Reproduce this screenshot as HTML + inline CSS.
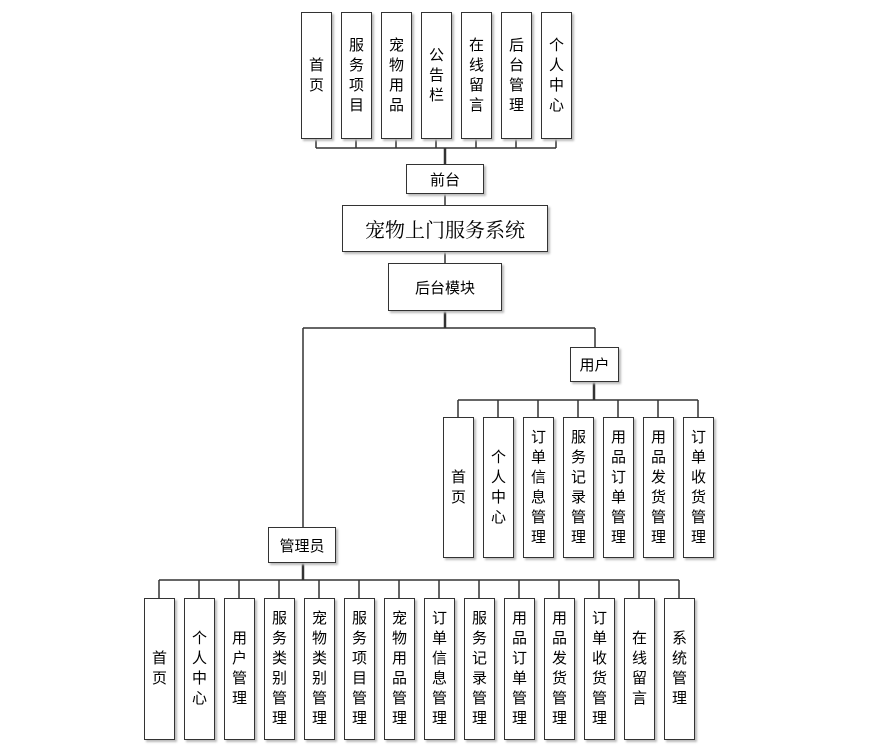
<!DOCTYPE html>
<html><head><meta charset="utf-8"><style>
body{margin:0;width:870px;height:750px;background:#fff;position:relative;overflow:hidden;font-family:"Liberation Sans","Noto Sans CJK SC",sans-serif;}
.b{position:absolute;border:1.5px solid #333;box-sizing:border-box;background:#fff;box-shadow:2px 2px 2px #bbb;display:flex;align-items:center;justify-content:center;text-align:center;color:#000;}
.v{font-size:15px;line-height:20px;width:31px}
.h{font-size:15px}
svg{position:absolute;left:0;top:0}
</style></head><body>
<svg width="870" height="750">
<g stroke="#333" stroke-width="1.5" fill="none">
<path d="M316 139V148M356 139V148M396 139V148M436 139V148M476 139V148M516 139V148M556 139V148M316 148H556"/>
<path d="M445 148V164" stroke-width="2.5"/>
<path d="M445 194V205M445 252V263"/>
<path d="M445 311V328" stroke-width="2.5"/>
<path d="M303 328H595M303 328V527M595 328V347"/>
<path d="M594 382V400" stroke-width="2.5"/>
<path d="M458 400H698M458 400V417M498 400V417M538 400V417M578 400V417M618 400V417M658 400V417M698 400V417"/>
<path d="M303 563V580" stroke-width="2.5"/>
<path d="M159 580H679M159 580V598M199 580V598M239 580V598M279 580V598M319 580V598M359 580V598M399 580V598M439 580V598M479 580V598M519 580V598M559 580V598M599 580V598M639 580V598M679 580V598"/>
</g></svg>
<div class="b v" style="left:301px;top:12px;height:127px">首<br>页</div>
<div class="b v" style="left:341px;top:12px;height:127px">服<br>务<br>项<br>目</div>
<div class="b v" style="left:381px;top:12px;height:127px">宠<br>物<br>用<br>品</div>
<div class="b v" style="left:421px;top:12px;height:127px">公<br>告<br>栏</div>
<div class="b v" style="left:461px;top:12px;height:127px">在<br>线<br>留<br>言</div>
<div class="b v" style="left:501px;top:12px;height:127px">后<br>台<br>管<br>理</div>
<div class="b v" style="left:541px;top:12px;height:127px">个<br>人<br>中<br>心</div>
<div class="b h" style="left:406px;top:164px;width:78px;height:30px">前台</div>
<div class="b" style="left:342px;top:205px;width:206px;height:47px;font-size:20px;font-family:'Liberation Serif','Noto Serif CJK SC',serif">宠物上门服务系统</div>
<div class="b h" style="left:388px;top:263px;width:114px;height:48px">后台模块</div>
<div class="b h" style="left:570px;top:347px;width:49px;height:35px">用户</div>
<div class="b v" style="left:443px;top:417px;height:141px">首<br>页</div>
<div class="b v" style="left:483px;top:417px;height:141px">个<br>人<br>中<br>心</div>
<div class="b v" style="left:523px;top:417px;height:141px">订<br>单<br>信<br>息<br>管<br>理</div>
<div class="b v" style="left:563px;top:417px;height:141px">服<br>务<br>记<br>录<br>管<br>理</div>
<div class="b v" style="left:603px;top:417px;height:141px">用<br>品<br>订<br>单<br>管<br>理</div>
<div class="b v" style="left:643px;top:417px;height:141px">用<br>品<br>发<br>货<br>管<br>理</div>
<div class="b v" style="left:683px;top:417px;height:141px">订<br>单<br>收<br>货<br>管<br>理</div>
<div class="b h" style="left:268px;top:527px;width:68px;height:36px">管理员</div>
<div class="b v" style="left:144px;top:598px;height:142px">首<br>页</div>
<div class="b v" style="left:184px;top:598px;height:142px">个<br>人<br>中<br>心</div>
<div class="b v" style="left:224px;top:598px;height:142px">用<br>户<br>管<br>理</div>
<div class="b v" style="left:264px;top:598px;height:142px">服<br>务<br>类<br>别<br>管<br>理</div>
<div class="b v" style="left:304px;top:598px;height:142px">宠<br>物<br>类<br>别<br>管<br>理</div>
<div class="b v" style="left:344px;top:598px;height:142px">服<br>务<br>项<br>目<br>管<br>理</div>
<div class="b v" style="left:384px;top:598px;height:142px">宠<br>物<br>用<br>品<br>管<br>理</div>
<div class="b v" style="left:424px;top:598px;height:142px">订<br>单<br>信<br>息<br>管<br>理</div>
<div class="b v" style="left:464px;top:598px;height:142px">服<br>务<br>记<br>录<br>管<br>理</div>
<div class="b v" style="left:504px;top:598px;height:142px">用<br>品<br>订<br>单<br>管<br>理</div>
<div class="b v" style="left:544px;top:598px;height:142px">用<br>品<br>发<br>货<br>管<br>理</div>
<div class="b v" style="left:584px;top:598px;height:142px">订<br>单<br>收<br>货<br>管<br>理</div>
<div class="b v" style="left:624px;top:598px;height:142px">在<br>线<br>留<br>言</div>
<div class="b v" style="left:664px;top:598px;height:142px">系<br>统<br>管<br>理</div>
</body></html>
